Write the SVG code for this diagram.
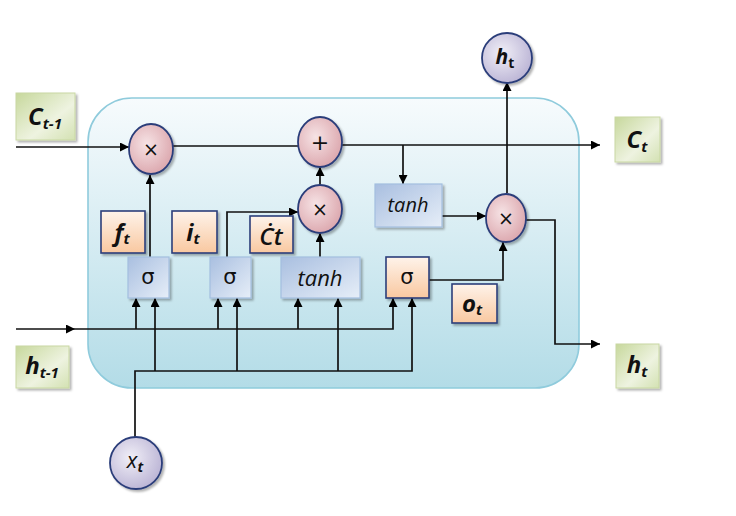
<svg xmlns="http://www.w3.org/2000/svg" width="736" height="516" viewBox="0 0 736 516">
<defs>
<linearGradient id="cellG" x1="0" y1="0" x2="0" y2="1">
<stop offset="0" stop-color="#f7fbfd"/><stop offset="1" stop-color="#b3dce7"/>
</linearGradient>
<radialGradient id="pinkG" cx="0.4" cy="0.4" r="0.7">
<stop offset="0" stop-color="#f6e3e5"/><stop offset="1" stop-color="#d9a1a8"/>
</radialGradient>
<radialGradient id="lavG" cx="0.4" cy="0.4" r="0.7">
<stop offset="0" stop-color="#f1eff7"/><stop offset="1" stop-color="#b6afd2"/>
</radialGradient>
<linearGradient id="blueG" x1="0" y1="0" x2="1" y2="1">
<stop offset="0" stop-color="#a9bfe0"/><stop offset="1" stop-color="#e6eef8"/>
</linearGradient>
<linearGradient id="orG" x1="0" y1="0" x2="0" y2="1">
<stop offset="0" stop-color="#fef3ea"/><stop offset="1" stop-color="#f9c8a0"/>
</linearGradient>
<linearGradient id="grG" x1="0" y1="0" x2="1" y2="1">
<stop offset="0" stop-color="#c7d89c"/><stop offset="0.6" stop-color="#eef3e0"/><stop offset="1" stop-color="#d3e1b2"/>
</linearGradient>
<filter id="sh" x="-20%" y="-20%" width="150%" height="150%">
<feDropShadow dx="2" dy="2" stdDeviation="1.2" flood-color="#000" flood-opacity="0.3"/>
</filter>
<marker id="ar" viewBox="0 0 10 10" refX="10" refY="5" markerWidth="9" markerHeight="9" markerUnits="userSpaceOnUse" orient="auto">
<path d="M0,0 L10,5 L0,10 z" fill="#000"/>
</marker>
</defs>
<style>
.ln{fill:none;stroke:#111;stroke-width:1.7}
.pk{fill:url(#pinkG);stroke:#2c3e7a;stroke-width:1.8;filter:url(#sh)}
.lv{fill:url(#lavG);stroke:#2c3e7a;stroke-width:1.8;filter:url(#sh)}
.bl{fill:url(#blueG);stroke:#a3bfdf;stroke-width:1.2;filter:url(#sh)}
.or{fill:url(#orG);stroke:#2c3e7a;stroke-width:1.6;filter:url(#sh)}
.gr{fill:url(#grG);stroke:#c9d8a3;stroke-width:1;filter:url(#sh)}
.t{font-family:"Open Sans","Liberation Sans",sans-serif;fill:#111;text-anchor:middle}
.bi{font-weight:bold;font-style:italic}
.it{font-style:italic}
.op{font-family:"DejaVu Sans","Liberation Sans",sans-serif;fill:#111;text-anchor:middle}
</style>

<rect id="cell" x="88" y="98" width="491" height="290" rx="44" ry="44" fill="url(#cellG)" stroke="#8fcbdc" stroke-width="1.6"/>

<g id="connectors">
<path class="ln" d="M16,147 H129" marker-end="url(#ar)"/>
<path class="ln" d="M173,146 H298"/>
<path class="ln" d="M342,145 H600" marker-end="url(#ar)"/>
<path class="ln" d="M403,145 V184" marker-end="url(#ar)"/>
<path class="ln" d="M150,257 V175" marker-end="url(#ar)"/>
<path class="ln" d="M227,257 V212 H298" marker-end="url(#ar)"/>
<path class="ln" d="M320,257 V233" marker-end="url(#ar)"/>
<path class="ln" d="M320,185 V167" marker-end="url(#ar)"/>
<path class="ln" d="M442,216 H486" marker-end="url(#ar)"/>
<path class="ln" d="M429,280 H503 V242" marker-end="url(#ar)"/>
<path class="ln" d="M507,193 V82" marker-end="url(#ar)"/>
<path class="ln" d="M526,220 H555 V344 H600" marker-end="url(#ar)"/>
<path class="ln" d="M16,329 H75" marker-end="url(#ar)"/>
<path class="ln" d="M75,329 H393 V298" marker-end="url(#ar)"/>
<path class="ln" d="M136,329 V298" marker-end="url(#ar)"/>
<path class="ln" d="M218,329 V298" marker-end="url(#ar)"/>
<path class="ln" d="M298,329 V298" marker-end="url(#ar)"/>
<path class="ln" d="M135,437 V371 H412 V298" marker-end="url(#ar)"/>
<path class="ln" d="M155,371 V298" marker-end="url(#ar)"/>
<path class="ln" d="M237,371 V298" marker-end="url(#ar)"/>
<path class="ln" d="M338,371 V298" marker-end="url(#ar)"/>
</g>

<g id="c_prev"><rect class="gr" x="16" y="93" width="59" height="47"/><text class="t bi" x="45" y="125" font-size="24">C<tspan font-size="15" dy="4">t-1</tspan></text></g>
<g id="c_t"><rect class="gr" x="615" y="117" width="45" height="45"/><text class="t bi" x="637" y="148" font-size="24">C<tspan font-size="15" dy="4">t</tspan></text></g>
<g id="h_prev"><rect class="gr" x="16" y="346" width="53" height="42"/><text class="t bi" x="42" y="374" font-size="24">h<tspan font-size="15" dy="4">t-1</tspan></text></g>
<g id="h_out"><rect class="gr" x="616" y="344" width="43" height="44"/><text class="t bi" x="637" y="373" font-size="24">h<tspan font-size="15" dy="4">t</tspan></text></g>

<g id="mul_forget"><ellipse class="pk" cx="151" cy="149" rx="22" ry="25"/><text class="op" x="151" y="156" font-size="19">×</text></g>
<g id="add"><ellipse class="pk" cx="320" cy="142" rx="22" ry="25"/><text class="op" x="320" y="150" font-size="22">+</text></g>
<g id="mul_input"><ellipse class="pk" cx="320" cy="209" rx="22" ry="24"/><text class="op" x="320" y="216" font-size="19">×</text></g>
<g id="mul_output"><ellipse class="pk" cx="506" cy="218" rx="20" ry="24"/><text class="op" x="506" y="225" font-size="19">×</text></g>

<g id="h_top"><circle class="lv" cx="507" cy="58" r="25"/><text class="t bi" x="505" y="64" font-size="21">h<tspan font-size="14" dy="4" font-style="normal">t</tspan></text></g>
<g id="x_t"><circle class="lv" cx="136" cy="463" r="26"/><text class="t it" x="135" y="468" font-size="22">x<tspan font-size="14" dy="4" font-weight="bold">t</tspan></text></g>

<g id="f_t"><rect class="or" x="101" y="211" width="44" height="42"/><text class="t bi" x="122" y="241" font-size="24">f<tspan font-size="15" dy="3">t</tspan></text></g>
<g id="i_t"><rect class="or" x="172" y="211" width="45" height="42"/><text class="t bi" x="193" y="241" font-size="24">i<tspan font-size="15" dy="3">t</tspan></text></g>
<g id="c_tilde"><rect class="or" x="250" y="216" width="43" height="37"/><text class="t it" x="271" y="245" font-size="24" font-weight="600">Ċt</text></g>
<g id="o_t"><rect class="or" x="452" y="284" width="45" height="39"/><text class="t bi" x="472" y="312" font-size="24">o<tspan font-size="15" dy="3">t</tspan></text></g>

<g id="sigma_f"><rect class="bl" x="128" y="257" width="41" height="41"/><text class="op" x="148" y="284" font-size="21">σ</text></g>
<g id="sigma_i"><rect class="bl" x="210" y="257" width="41" height="41"/><text class="op" x="230" y="284" font-size="21">σ</text></g>
<g id="tanh_c"><rect class="bl" x="281" y="257" width="79" height="41"/><text class="t it" x="320" y="286" font-size="22">tanh</text></g>
<g id="sigma_o"><rect class="or" x="386" y="257" width="43" height="41"/><text class="op" x="407" y="284" font-size="21">σ</text></g>
<g id="tanh_h"><rect class="bl" x="375" y="184" width="67" height="43"/><text class="t it" x="408" y="212" font-size="20">tanh</text></g>
</svg>
